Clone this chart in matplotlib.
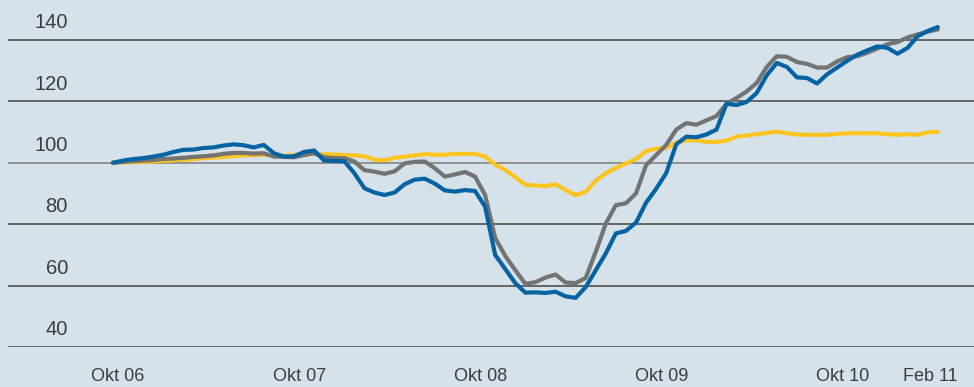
import matplotlib
matplotlib.use("Agg")
import matplotlib.pyplot as plt
import matplotlib.transforms as mtransforms
import numpy as np

# Index, Okt 06 = 100; sampled roughly every 20 days
blue = [100.0, 100.7, 101.2, 101.5, 102.0, 102.6, 103.5, 104.2, 104.3, 104.8,
        105.0, 105.6, 106.0, 105.7, 105.0, 105.8, 103.1, 102.0, 102.1, 103.5,
        104.0, 100.7, 100.6, 100.5, 96.6, 91.7, 90.3, 89.5, 90.3, 93.0,
        94.5, 94.8, 93.2, 91.0, 90.6, 91.1, 90.8, 85.7, 70.0, 65.4,
        60.8, 57.7, 57.8, 57.6, 58.0, 56.5, 56.0, 59.5, 65.0, 70.5,
        77.0, 77.8, 80.5, 87.0, 91.5, 96.6, 106.0, 108.5, 108.3, 109.2,
        110.8, 119.2, 118.8, 119.8, 122.7, 128.5, 132.5, 131.2, 127.8, 127.6,
        125.8, 128.8, 131.0, 133.2, 135.2, 136.6, 137.9, 137.4, 135.5, 137.4,
        141.2, 142.9, 144.2]
grey = [100.0, 100.3, 100.5, 100.7, 100.9, 101.2, 101.4, 101.6, 101.9, 102.1,
        102.4, 102.9, 103.2, 103.2, 103.0, 103.1, 102.0, 101.9, 101.8, 102.5,
        103.1, 101.8, 101.5, 101.5, 100.4, 97.6, 97.1, 96.4, 97.2, 99.8,
        100.3, 100.4, 98.2, 95.5, 96.2, 97.0, 95.5, 89.5, 75.5, 69.7,
        65.0, 60.6, 61.1, 62.6, 63.6, 61.0, 60.8, 62.5, 71.0, 80.2,
        86.2, 86.8, 90.0, 99.2, 102.5, 105.8, 110.8, 112.9, 112.4, 113.8,
        115.2, 119.2, 121.1, 123.2, 126.0, 131.2, 134.7, 134.5, 132.8, 132.2,
        131.0, 131.0, 133.0, 134.4, 134.7, 135.8, 137.2, 138.6, 139.3, 140.8,
        141.8, 142.7, 143.4]
yellow = [100.0, 100.1, 100.2, 100.3, 100.4, 100.6, 100.8, 101.0, 101.2, 101.5,
          101.7, 101.9, 102.2, 102.4, 102.5, 102.6, 102.4, 102.3, 102.5, 102.8,
          103.0, 102.7, 102.7, 102.5, 102.4, 102.1, 101.0, 100.8, 101.6, 102.0,
          102.4, 102.8, 102.6, 102.6, 102.9, 102.9, 102.9, 102.0, 99.4, 97.6,
          95.3, 92.8, 92.6, 92.4, 93.0, 91.1, 89.4, 90.6, 94.2, 96.6,
          98.3, 99.8, 101.2, 103.8, 104.6, 104.8, 106.5, 107.3, 107.3, 106.8,
          106.8, 107.2, 108.5, 108.9, 109.3, 109.7, 110.1, 109.6, 109.2, 109.1,
          109.1, 109.1, 109.4, 109.6, 109.6, 109.6, 109.6, 109.3, 109.1, 109.3,
          109.1, 109.9, 110.1]

# months since Okt 06
months = np.linspace(-0.33, 54.3, len(blue))

tick_pos = [0, 12, 24, 36, 48, 53.8]
tick_labels = ["Okt 06", "Okt 07", "Okt 08", "Okt 09", "Okt 10", "Feb 11"]
y_levels = [40, 60, 80, 100, 120, 140]

bg = "#d6e2ea"
font = ["Liberation Sans", "DejaVu Sans"]

fig = plt.figure(figsize=(9.74, 3.87), dpi=100, facecolor=bg)
ax = fig.add_axes([8 / 974, 40 / 387, 966 / 974, 347 / 387])
ax.set_facecolor(bg)

for lv in y_levels:
    col = "#8a8a8a" if lv == 100 else "#5a5a5a"
    ax.axhline(lv, color=col, lw=1.3, zorder=1)

ax.plot(months, yellow, color="#fcc41f", lw=3.0, zorder=3, solid_capstyle="round")
ax.plot(months, grey, color="#737373", lw=3.0, zorder=4, solid_capstyle="round")
ax.plot(months, blue, color="#0563a3", lw=3.0, zorder=5, solid_capstyle="round")

ax.set_xlim(-7.28, 56.7)
ax.set_ylim(40, 153)

for s in ax.spines.values():
    s.set_visible(False)

ax.set_yticks([])
ax.set_xticks(tick_pos)
ax.set_xticklabels(tick_labels, family=font, fontsize=13, color="#3c3c3c")
ax.tick_params(axis="x", length=0, pad=15)

trans = mtransforms.blended_transform_factory(ax.transAxes, ax.transData)
for lv in y_levels:
    ax.text(0.062, lv + 3.8, str(lv), transform=trans, ha="right", va="baseline",
            family=font, fontsize=14.5, color="#3c3c3c")

fig.savefig("out.png", dpi=100, facecolor=bg)
